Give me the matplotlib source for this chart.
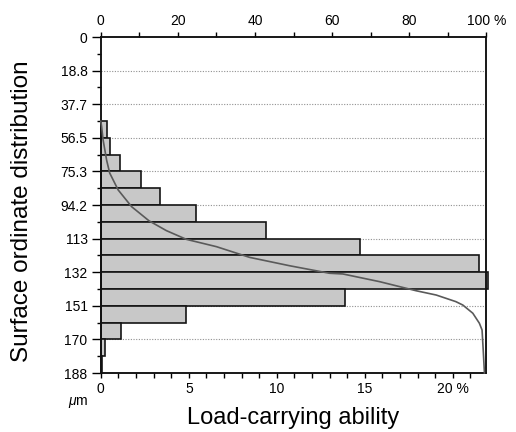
import numpy as np
import matplotlib
matplotlib.use('Agg')
import matplotlib.pyplot as plt
from matplotlib.ticker import FixedLocator, MultipleLocator

plt.rcParams['font.family'] = ['Liberation Sans', 'DejaVu Sans']
plt.rcParams['mathtext.fontset'] = 'custom'
plt.rcParams['mathtext.it'] = 'Liberation Sans:italic'

# ── data ─────────────────────────────────────────────────────────────
DEPTH_MAX = 188.3          # µm
BIN_H = DEPTH_MAX / 20     # class height

# upper edge of each populated class (µm) and its share of the profile (%)
bin_top = [47.1, 56.5, 65.9, 75.3, 84.7, 94.2, 103.6, 113.0,
           122.4, 131.8, 141.2, 150.7, 160.1, 169.5, 178.9]
share = [0.36, 0.52, 1.09, 2.27, 3.36, 5.39, 9.39, 14.7,
         21.5, 21.98, 13.87, 4.83, 1.14, 0.23, 0.06]

# bearing-ratio curve (% on top axis, depth µm)
curve_pct = [0.0, 0.2, 0.6, 1.5, 2.3, 4.5, 8.0, 12.5, 17.0, 22.2, 30.0,
             38.6, 49.0, 59.3, 62.8, 72.3, 81.8, 87.0, 92.1, 93.9, 96.5,
             98.2, 98.9, 99.2, 99.5, 99.5]
curve_depth = [47.1, 50.0, 57.7, 68.9, 76.2, 85.7, 95.1, 103.0, 108.5,
               113.4, 117.5, 123.5, 128.2, 132.4, 132.8, 137.1, 142.2,
               144.6, 148.3, 150.2, 154.8, 160.4, 164.2, 175.4, 187.6, 188.3]

y_ticks = [DEPTH_MAX * i / 10 for i in range(11)]
y_labels = ['0', '18.8', '37.7', '56.5', '75.3', '94.2',
            '113', '132', '151', '170', '188']
bottom_ticks = [0, 5, 10, 15, 20]
bottom_labels = ['0', '5', '10', '15', '20 %']
top_ticks = [0, 20, 40, 60, 80, 100]
top_labels = ['0', '20', '40', '60', '80', '100 %']

BAR = '#c8c8c8'
EDGE = '#151515'
CURVE = '#5a5a5a'
GRID = '#909090'

W, H = 516, 432
fig = plt.figure(figsize=(W / 100, H / 100), dpi=100, facecolor='white')
ax = fig.add_axes([100.8 / W, 59 / H, (486.3 - 100.8) / W, 336 / H])

ax.set_ylim(DEPTH_MAX, 0)
ax.set_xlim(0, 21.9)

# dotted guide lines at labelled depths
ax.hlines(y_ticks[1:-1], 0, 21.75, colors=GRID, linewidth=0.8,
          linestyles=(0, (1, 1.4)), zorder=0)

centers = np.array(bin_top) + BIN_H / 2
ax.barh(centers, share, height=BIN_H, left=0, color=BAR,
        edgecolor=EDGE, linewidth=1.2, zorder=2, clip_on=False)

# spines / ticks (bottom + left)
for s in ax.spines.values():
    s.set_linewidth(1.1)
    s.set_color('#111111')
ax.yaxis.set_major_locator(FixedLocator(y_ticks))
ax.set_yticklabels(y_labels)
ax.yaxis.set_minor_locator(FixedLocator([DEPTH_MAX * (i + 0.5) / 10 for i in range(10)]))
ax.tick_params(axis='y', which='major', direction='out', length=6.5, width=1.0,
               pad=3, labelsize=10, right=False)
ax.tick_params(axis='y', which='minor', direction='out', length=3.2, width=1.0,
               right=False)

ax.xaxis.set_major_locator(FixedLocator(bottom_ticks))
ax.set_xticklabels(bottom_labels)
ax.xaxis.set_minor_locator(MultipleLocator(1))
ax.tick_params(axis='x', which='both', direction='out', length=3.4, width=1.0,
               pad=3, labelsize=10, top=False)

# top axis: cumulative share 0–100 %
ax2 = ax.twiny()
ax2.set_xlim(0, 100)
ax2.plot(curve_pct, curve_depth, color=CURVE, linewidth=1.2, zorder=3,
         clip_on=False)
ax2.xaxis.set_major_locator(FixedLocator(top_ticks))
ax2.set_xticklabels(top_labels)
ax2.xaxis.set_minor_locator(MultipleLocator(10))
ax2.tick_params(axis='x', which='both', direction='out', length=3.6, width=1.0,
                pad=3, labelsize=10)
for s in ax2.spines.values():
    s.set_linewidth(1.1)
    s.set_color('#111111')

# labels
fig.text(22 / W, 1 - 211 / H, 'Surface ordinate distribution', rotation=90,
         ha='center', va='center', fontsize=17.5)
fig.text(293 / W, 1 - 418 / H, 'Load-carrying ability',
         ha='center', va='center', fontsize=17)
fig.text(78 / W, 1 - 403 / H, r'$\mathit{\mu}$m', ha='center', va='center',
         fontsize=10)

fig.savefig('out.png', dpi=100, facecolor='white')
